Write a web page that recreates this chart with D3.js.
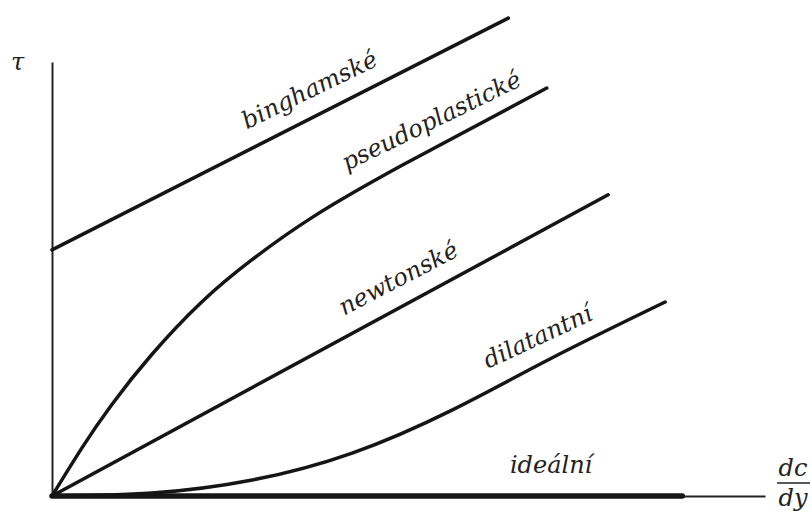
<!DOCTYPE html>
<html>
<head>
<meta charset="utf-8">
<script src="https://cdn.jsdelivr.net/npm/d3@7/dist/d3.min.js"></script>
<style>
    body { margin: 0; background: #fff; }
    .curve { fill: none; stroke: #151515; stroke-width: 3.5; stroke-linecap: round; stroke-linejoin: round; }
    .curveIdeal { stroke-width: 5.5; }
    .axis path { stroke: #222; stroke-width: 2; }
    .label { font-family: "DejaVu Serif", serif; font-style: italic; font-size: 24px; fill: #222; }
</style>
</head>
<body>
<div id="flow"></div>
<script>
// curves in arbitrary units (x = dc/dy, y = tau)
const names = ["binghamské", "pseudoplastické", "newtonské", "dilatantní", "ideální"];
const bingham = [[0, 56.7], [64.0, 110.1]];
const pseudoplastic = [[0, 0], [4.2, 11.1], [8.4, 21.1], [14.0, 32.6], [21.0, 44.7], [28.1, 54.5],
    [36.5, 64.2], [49.1, 76.2], [69.4, 94.0]];
const newtonian = [[0, 0], [78.0, 69.4]];
const dilatant = [[0, 0], [14.0, 0.7], [28.1, 3.7], [42.1, 9.9], [56.1, 19.8], [70.1, 31.8], [86.0, 44.7]];
const ideal = [[0, 0], [88.4, 0]];
// where each name sits (same units) and its slant
const labelX = [36.6, 53.7, 49.1, 68.6, 70.0];
const labelY = [91.9, 84.8, 48.5, 35.0, 5.3];
const labelAngle = [-26, -26, -27.5, -25, 0];

let margin = {top: 62, right: 47, bottom: 17, left: 52},
    width = 812 - margin.left - margin.right,
    height = 513 - margin.top - margin.bottom;

let svg = d3.select("#flow")
    .append("svg")
    .attr("width", width + margin.left + margin.right)
    .attr("height", height + margin.top + margin.bottom)
    .append("g")
    .attr("transform", `translate(${margin.left}, ${margin.top})`);

let x = d3.scaleLinear()
    .domain([0, 100])
    .range([0, width]);
let y = d3.scaleLinear()
    .domain([0, 100])
    .range([height, 0]);

// axes without ticks
svg.append("g")
    .attr("class", "axis")
    .attr("transform", `translate(0, ${height})`)
    .call(d3.axisBottom(x).tickValues([]).tickSizeOuter(0));
svg.append("g")
    .attr("class", "axis")
    .call(d3.axisLeft(y).tickValues([]).tickSizeOuter(0));

let line = d3.line()
    .x(d => x(d[0]))
    .y(d => y(d[1]))
    .curve(d3.curveNatural);

const series = [bingham, pseudoplastic, newtonian, dilatant, ideal];
svg.selectAll(".curve")
    .data(series)
    .join("path")
    .attr("class", (d, i) => i == 4 ? "curve curveIdeal" : "curve")
    .attr("d", line);

svg.selectAll(".label")
    .data(names)
    .join("text")
    .attr("class", "label")
    .attr("text-anchor", "middle")
    .attr("transform", (d, i) => `translate(${x(labelX[i])}, ${y(labelY[i])}) rotate(${labelAngle[i]})`)
    .text(d => d);

// axis titles
svg.append("text")
    .attr("class", "label")
    .attr("x", -41)
    .attr("y", 8)
    .text("τ");

let frac = svg.append("g")
    .attr("transform", `translate(${x(100) + 28}, ${height})`);
frac.append("text")
    .attr("class", "label")
    .attr("text-anchor", "middle")
    .attr("y", -20)
    .text("dc");
frac.append("line")
    .attr("x1", -16)
    .attr("x2", 17)
    .attr("y1", -13)
    .attr("y2", -13)
    .style("stroke", "#222")
    .style("stroke-width", 1.5);
frac.append("text")
    .attr("class", "label")
    .attr("text-anchor", "middle")
    .attr("y", 10)
    .text("dy");
</script>
</body>
</html>
